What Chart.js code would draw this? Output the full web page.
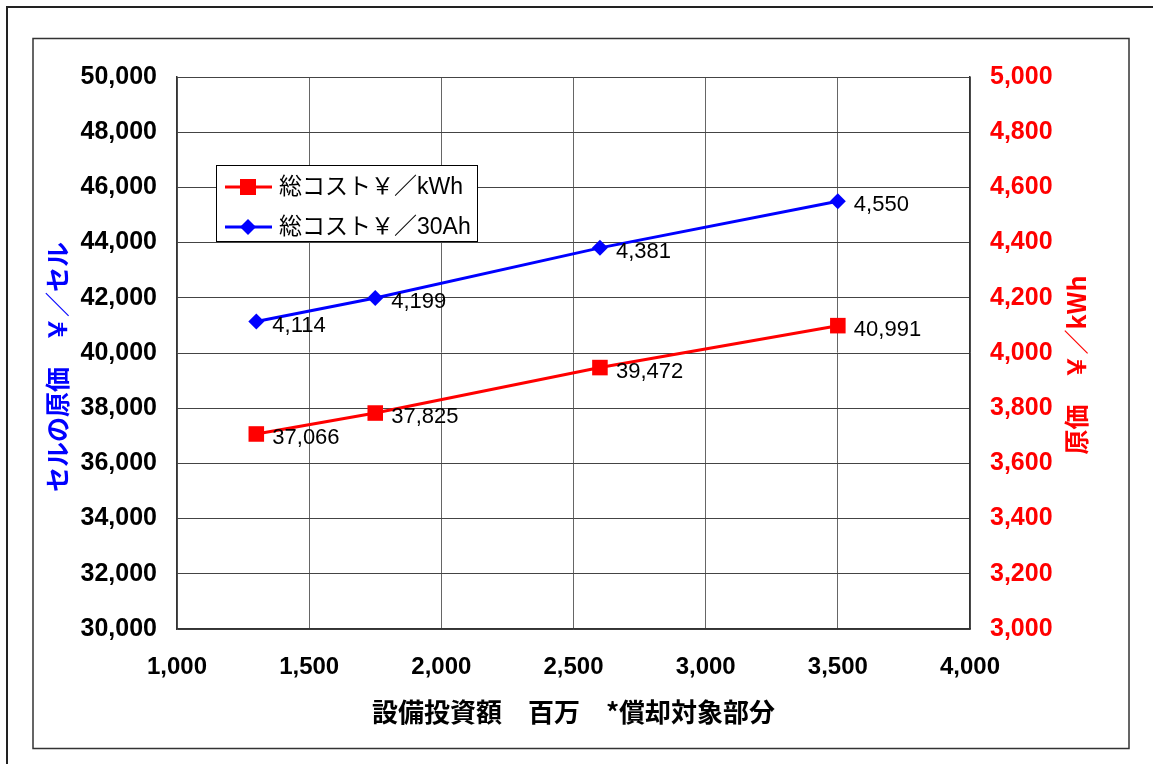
<!DOCTYPE html>
<html lang="ja">
<head>
    <meta charset="UTF-8">
    <title>設備投資額と原価</title>
    <script src="https://cdn.jsdelivr.net/npm/chart.js"></script>
    <style>
        body { margin: 0; background: #fff; }
        #costChart { display: block; }
    </style>
</head>
<body>
    <canvas id="costChart" width="1153" height="764"></canvas>

    <script>
        // 設備投資額 (百万円)
        const investment = [1300, 1750, 2600, 3500];
        // 総コスト ¥/kWh  -> left axis
        const costPerKwh = [37066, 37825, 39472, 40991];
        // 総コスト ¥/30Ah -> right axis
        const costPer30Ah = [4114, 4199, 4381, 4550];

        const seriesNames = ['総コスト￥／kWh', '総コスト￥／30Ah'];
        const xTitle = '設備投資額　百万　*償却対象部分';
        const leftTitle = 'セルの原価　￥／セル';
        const rightTitle = '原価　￥／kWh';

        const latin = "'Liberation Sans', Arial, 'Noto Sans CJK JP', sans-serif";
        const cjk = "'Noto Sans CJK JP', 'Liberation Sans', sans-serif";

        function fmt(v) {
            return v.toLocaleString('en-US');
        }

        function drawMarker(ctx, style, x, y, color) {
            ctx.fillStyle = color;
            ctx.beginPath();
            if (style === 'rect') {
                ctx.rect(x - 8, y - 8, 16, 16);
            } else {
                ctx.moveTo(x, y - 8);
                ctx.lineTo(x + 8, y);
                ctx.lineTo(x, y + 8);
                ctx.lineTo(x - 8, y);
                ctx.closePath();
            }
            ctx.fill();
        }

        // frames, axis titles, value labels and the boxed legend
        const decorations = {
            id: 'decorations',
            beforeDraw(chart) {
                const ctx = chart.ctx;
                ctx.save();
                ctx.fillStyle = '#fff';
                ctx.fillRect(0, 0, chart.width, chart.height);
                ctx.strokeStyle = '#222';
                ctx.lineWidth = 2;
                ctx.strokeRect(7, 7, chart.width + 20, chart.height + 20);
                ctx.strokeStyle = '#333';
                ctx.lineWidth = 1.5;
                ctx.strokeRect(33, 38.5, 1096, 710);
                ctx.restore();
            },
            afterDraw(chart) {
                const ctx = chart.ctx;
                ctx.save();

                // vertical axis titles (both read bottom to top)
                ctx.font = "bold 25px " + cjk;
                ctx.textAlign = 'center';
                ctx.textBaseline = 'middle';
                ctx.fillStyle = '#0000ff';
                ctx.save();
                ctx.translate(57, 367);
                ctx.rotate(-Math.PI / 2);
                ctx.fillText(leftTitle, 0, 0);
                ctx.restore();
                ctx.fillStyle = '#ff0000';
                ctx.save();
                ctx.translate(1076, 365);
                ctx.rotate(-Math.PI / 2);
                ctx.fillText(rightTitle, 0, 0);
                ctx.restore();

                // value labels next to each point
                ctx.font = "22px " + latin;
                ctx.textAlign = 'left';
                ctx.fillStyle = '#000';
                chart.data.datasets.forEach((ds, i) => {
                    chart.getDatasetMeta(i).data.forEach((pt, j) => {
                        ctx.fillText(fmt(ds.data[j].y), pt.x + 16, pt.y + 4);
                    });
                });

                // legend box
                const lx = 216, ly = 165, lw = 261, lh = 76;
                ctx.fillStyle = '#fff';
                ctx.fillRect(lx, ly, lw, lh);
                ctx.strokeStyle = '#000';
                ctx.lineWidth = 1;
                ctx.strokeRect(lx + 0.5, ly + 0.5, lw, lh);
                chart.data.datasets.forEach((ds, i) => {
                    const cy = ly + 22 + i * 40;
                    ctx.strokeStyle = ds.borderColor;
                    ctx.lineWidth = 3;
                    ctx.beginPath();
                    ctx.moveTo(lx + 9, cy);
                    ctx.lineTo(lx + 56, cy);
                    ctx.stroke();
                    drawMarker(ctx, ds.pointStyle, lx + 32, cy, ds.borderColor);
                    ctx.fillStyle = '#000';
                    ctx.font = "23px " + latin;
                    ctx.fillText(ds.label, lx + 63, cy + 1);
                });

                ctx.restore();
            }
        };

        const ctx = document.getElementById('costChart').getContext('2d');
        new Chart(ctx, {
            type: 'line',
            data: {
                datasets: [
                    {
                        label: seriesNames[0],
                        data: investment.map((x, i) => ({ x: x, y: costPerKwh[i] })),
                        yAxisID: 'y',
                        borderColor: '#ff0000',
                        backgroundColor: '#ff0000',
                        borderWidth: 3,
                        pointStyle: 'rect',
                        pointRadius: 11,
                        pointBorderWidth: 0
                    },
                    {
                        label: seriesNames[1],
                        data: investment.map((x, i) => ({ x: x, y: costPer30Ah[i] })),
                        yAxisID: 'y1',
                        borderColor: '#0000ff',
                        backgroundColor: '#0000ff',
                        borderWidth: 3,
                        pointStyle: 'rectRot',
                        pointRadius: 8,
                        pointBorderWidth: 0
                    }
                ]
            },
            options: {
                responsive: false,
                animation: false,
                events: [],
                layout: { padding: { top: 77, left: 0, right: 0, bottom: 0 } },
                plugins: {
                    legend: { display: false },
                    tooltip: { enabled: false }
                },
                scales: {
                    x: {
                        type: 'linear',
                        min: 1000,
                        max: 4000,
                        ticks: {
                            stepSize: 500,
                            padding: 24,
                            color: '#000',
                            font: { family: latin, size: 24, weight: 'bold' }
                        },
                        grid: { color: '#666', drawTicks: false },
                        border: { color: '#333', width: 1.5 },
                        title: {
                            display: true,
                            text: xTitle,
                            color: '#000',
                            font: { family: cjk, size: 26, weight: 'bold' },
                            padding: { top: 0, bottom: 36 }
                        },
                        afterFit(scale) { scale.height = 135; }
                    },
                    y: {
                        position: 'left',
                        min: 30000,
                        max: 50000,
                        ticks: {
                            stepSize: 2000,
                            padding: 20,
                            color: '#000',
                            font: { family: latin, size: 25, weight: 'bold' }
                        },
                        grid: { color: '#444', drawTicks: false },
                        border: { color: '#333', width: 1.5 },
                        afterFit(scale) { scale.width = 177; }
                    },
                    y1: {
                        position: 'right',
                        min: 3000,
                        max: 5000,
                        ticks: {
                            stepSize: 200,
                            padding: 20,
                            color: '#ff0000',
                            font: { family: latin, size: 25, weight: 'bold' }
                        },
                        grid: { display: false, drawTicks: false },
                        border: { color: '#333', width: 1.5 },
                        afterFit(scale) { scale.width = 183; }
                    }
                }
            },
            plugins: [decorations]
        });
    </script>
</body>
</html>
